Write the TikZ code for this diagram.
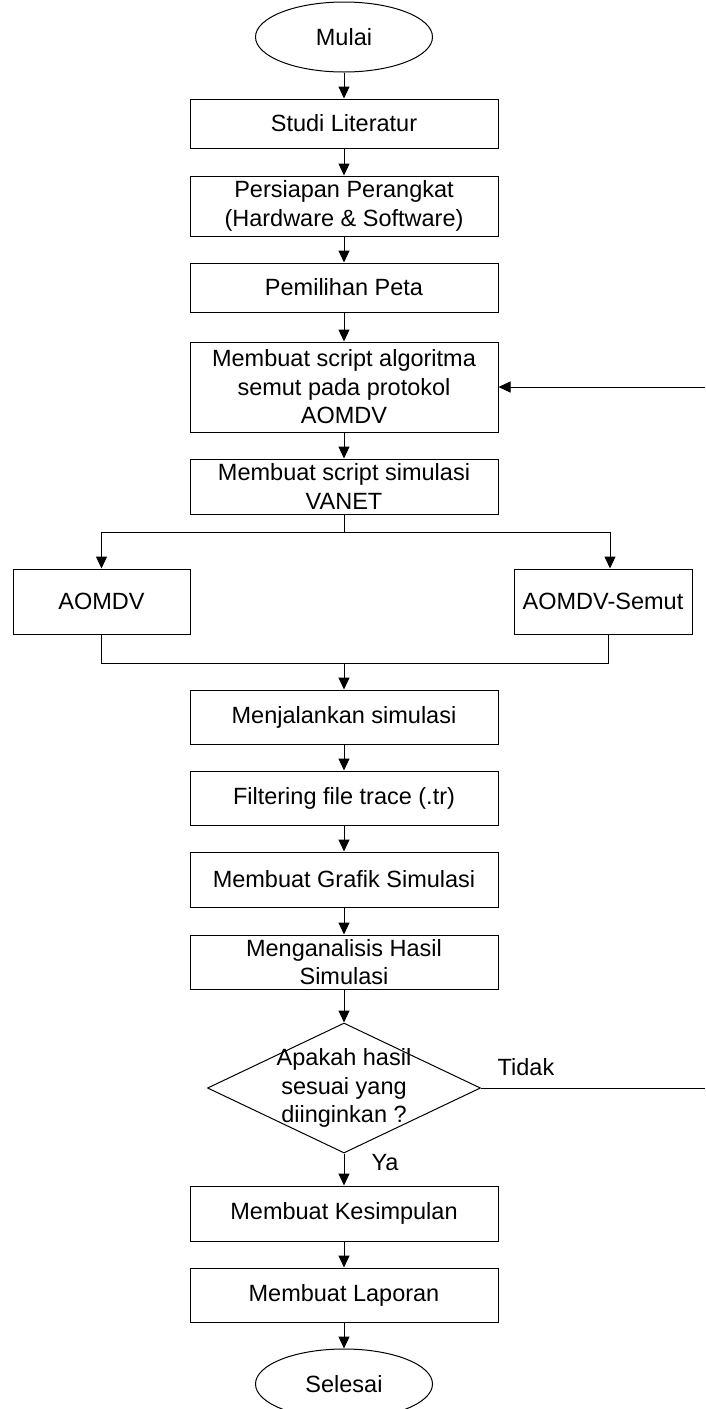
\documentclass[tikz,border=0pt]{standalone}
\usepackage{fontspec}
\setmainfont{Liberation Sans}
\usetikzlibrary{shapes.geometric,arrows.meta}
\begin{document}
\begin{tikzpicture}[x=1pt,y=-1pt,
  every node/.style={font=\fontsize{23.5}{28.5}\selectfont},
  procbox/.style={draw, line width=1pt, rectangle, minimum width=308pt, inner sep=0pt, align=center},
  sidebox/.style={draw, line width=1pt, rectangle, minimum height=65pt, inner sep=0pt, align=center},
  termnode/.style={draw, line width=1pt, ellipse, minimum width=177pt, minimum height=70pt, inner sep=0pt},
  decnode/.style={draw, line width=1pt, diamond, minimum width=273pt, minimum height=130pt, inner sep=0pt},
  flow/.style={line width=1pt, -{Triangle[length=12pt,width=11pt]}},
  plainline/.style={line width=1pt},
  lbl/.style={inner sep=0pt, align=center}
]
\useasboundingbox (0,0) rectangle (705,1409);

\node[termnode] (mulai) at (344,37) {Mulai};
\node[procbox, minimum height=49pt] (studi) at (344,123.5) {Studi Literatur};
\node[procbox, minimum height=60pt] (persiapan) at (344,206) {Persiapan Perangkat\\(Hardware \& Software)};
\node[procbox, minimum height=49pt] (peta) at (344,287.5) {Pemilihan Peta};
\node[procbox, minimum height=90pt] (scriptalg) at (344,387) {Membuat script algoritma\\semut pada protokol\\AOMDV};
\node[procbox, minimum height=55pt] (scriptsim) at (344,486.5) {Membuat script simulasi\\VANET};
\node[sidebox, minimum width=177pt] (aomdv) at (101.5,601.5) {AOMDV};
\node[sidebox, minimum width=178pt] (semut) at (603,601.5) {AOMDV-Semut};
\node[procbox, minimum height=54pt] (jalan) at (344,717) {Menjalankan simulasi};
\node[procbox, minimum height=54pt] (filter) at (344,798) {Filtering file trace (.tr)};
\node[procbox, minimum height=55pt] (grafik) at (344,879.5) {Membuat Grafik Simulasi};
\node[procbox, minimum height=54pt] (analisis) at (344,962) {Menganalisis Hasil\\Simulasi};
\node[decnode] (cek) at (344,1088) {};
\node[lbl] (cektext) at (344,1088) {Apakah hasil\\sesuai yang\\diinginkan ?};
\node[procbox, minimum height=55pt] (simpul) at (344,1213.5) {Membuat Kesimpulan};
\node[procbox, minimum height=54pt] (lapor) at (344,1295) {Membuat Laporan};
\node[termnode] (selesai) at (344,1384) {Selesai};

\node[lbl] (tidak) at (526,1067) {Tidak};
\node[lbl] (ya) at (385,1163) {Ya};

\coordinate (split) at (344,532);
\coordinate (merge) at (344,663);
\coordinate (mergeR) at (608,663);
\coordinate (tidakEnd) at (705,1088);
\coordinate (fbStart) at (705,387);

\draw[flow] (mulai) -- (studi);
\draw[flow] (studi) -- (persiapan);
\draw[flow] (persiapan) -- (peta);
\draw[flow] (peta) -- (scriptalg);
\draw[flow] (scriptalg) -- (scriptsim);
\draw[plainline] (scriptsim.south) -- (split);
\draw[flow] (split) -| (aomdv.north);
\draw[flow] (split) -| ([xshift=7pt]semut.north);
\draw[plainline] (aomdv.south) |- (mergeR) -- ([xshift=5pt]semut.south);
\draw[flow] (merge) -- (jalan.north);
\draw[flow] (jalan) -- (filter);
\draw[flow] (filter) -- (grafik);
\draw[flow] (grafik) -- (analisis);
\draw[flow] (analisis.south) -- (cek.north);
\draw[flow] (cek.south) -- (simpul.north);
\draw[flow] (simpul) -- (lapor);
\draw[flow] (lapor) -- (selesai);
\draw[plainline] (cek.east) -- (tidakEnd);
\draw[flow] (fbStart) -- (scriptalg.east);
\end{tikzpicture}
\end{document}
